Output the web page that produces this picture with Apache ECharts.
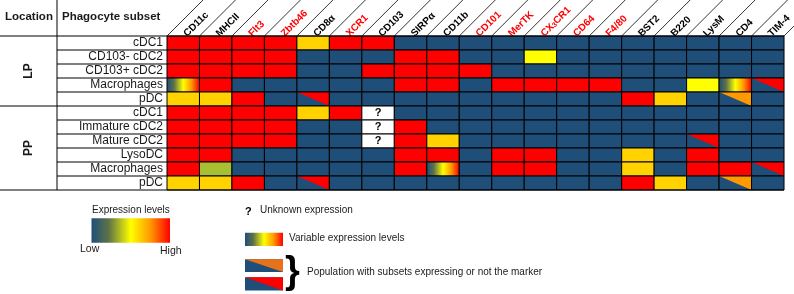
<!DOCTYPE html>
<html><head><meta charset="utf-8">
<script src="https://cdn.jsdelivr.net/npm/echarts@6/dist/echarts.min.js"></script>
<style>html,body{margin:0;padding:0;background:#fff}#c{width:794px;height:294px}</style>
</head><body><div id="c"></div>
<script>
// ---------------- data ----------------
const markers = ['CD11c','MHCII','Flt3','Zbtb46','CD8α','XCR1','CD103','SIRPα','CD11b','CD101','MerTK','CX3CR1','CD64','F4/80','BST2','B220','LysM','CD4','TIM-4'];
const redMarkers = ['Flt3','Zbtb46','XCR1','CD101','MerTK','CX3CR1','CD64','F4/80'];
const subsets = ['cDC1','CD103- cDC2','CD103+ cDC2','Macrophages','pDC','cDC1','Immature cDC2','Mature cDC2','LysoDC','Macrophages','pDC'];
const locations = ['LP','PP'];
const locationRows = [[0,4],[5,10]];
// codes: L low, H high, M medium, Y yellow, O olive, V variable, SR split red, SO split orange, U unknown
const LP_cDC1     = ['H','H','H','H','M','H','H','L','L','L','L','L','L','L','L','L','L','L','L'];
const LP_CD103neg = ['H','H','H','H','L','L','L','H','H','L','L','Y','L','L','L','L','L','L','L'];
const LP_CD103pos = ['H','H','H','H','L','L','H','H','H','H','L','L','L','L','L','L','L','L','L'];
const LP_Mac      = ['V','H','L','L','L','L','L','H','H','L','H','H','H','H','L','L','Y','V','SR'];
const LP_pDC      = ['M','M','H','L','SR','L','L','L','L','L','L','L','L','L','H','M','L','SO','L'];
const PP_cDC1     = ['H','H','H','H','M','H','U','L','L','L','L','L','L','L','L','L','L','L','L'];
const PP_ImmcDC2  = ['H','H','H','H','L','L','U','H','L','L','L','L','L','L','L','L','L','L','L'];
const PP_MatcDC2  = ['H','H','H','H','L','L','U','H','M','L','L','L','L','L','L','L','SR','L','L'];
const PP_LysoDC   = ['H','H','L','L','L','L','L','H','H','L','H','H','L','L','M','L','H','L','L'];
const PP_Mac      = ['H','O','L','L','L','L','L','H','V','L','H','H','L','L','M','L','H','H','SR'];
const PP_pDC      = ['M','M','H','L','SR','L','L','L','L','L','L','L','L','L','H','M','L','SO','L'];
const matrix = [LP_cDC1,LP_CD103neg,LP_CD103pos,LP_Mac,LP_pDC,PP_cDC1,PP_ImmcDC2,PP_MatcDC2,PP_LysoDC,PP_Mac,PP_pDC];

// ---------------- style ----------------
const FONT = 'Liberation Sans, Arial, sans-serif';
const TXT = '#1a1a1a';
const BLUE = '#1f4e79', RED = '#ff0000', GOLD = '#ffd200', YEL = '#ffff00', OLIVE = '#a9bf32', ORANGE = '#ff9900';
const codeKeys = ['L','H','M','Y','O','V','SR','SO','U'];
const flat = {L: BLUE, H: RED, M: GOLD, Y: YEL, O: OLIVE};
const SUBSET_X = 57;
function grad(){
  return new echarts.graphic.LinearGradient(0,0,1,0,[
    {offset:0,color:BLUE},{offset:0.22,color:'#5f7347'},{offset:0.5,color:'#ffff00'},{offset:0.75,color:'#ff9a00'},{offset:1,color:'#ff0000'}]);
}

const cellData = [];
matrix.forEach((row, y) => row.forEach((code, x) => cellData.push([x, y, codeKeys.indexOf(code)])));

function renderCell(params, api){
  const xi = api.value(0), yi = api.value(1), code = codeKeys[api.value(2)];
  const c = api.coord([xi, yi]), s = api.size([1,1]);
  const x0 = c[0]-s[0]/2, y0 = c[1]-s[1]/2, w = s[0], h = s[1];
  const ch = [];
  if (flat[code]) ch.push({type:'rect', shape:{x:x0,y:y0,width:w,height:h}, style:{fill:flat[code]}});
  else if (code === 'V') ch.push({type:'rect', shape:{x:x0,y:y0,width:w,height:h}, style:{fill:grad()}});
  else if (code === 'SR' || code === 'SO') {
    ch.push({type:'rect', shape:{x:x0,y:y0,width:w,height:h}, style:{fill:BLUE}});
    ch.push({type:'polygon', shape:{points:[[x0,y0],[x0+w,y0],[x0+w,y0+h]]}, style:{fill: code==='SR'?RED:ORANGE}});
  } else if (code === 'U') {
    ch.push({type:'rect', shape:{x:x0,y:y0,width:w,height:h}, style:{fill:'#fff'}});
    ch.push({type:'text', x:c[0], y:c[1], style:{text:'?', font:'bold 11px '+FONT, fill:'#000', align:'center', verticalAlign:'middle'}});
  }
  ch.push({type:'rect', shape:{x:x0,y:y0,width:w,height:h}, style:{fill:null, stroke:'#000', lineWidth:1}});
  return {type:'group', children: ch};
}

function renderHeaderLines(params, api){
  const xi = api.value(0);
  const c = api.coord([xi, 0]), s = api.size([1,1]);
  const top = params.coordSys.y;
  const left = c[0]-s[0]/2;
  const ch = [{type:'line', shape:{x1:left,y1:top,x2:left+top,y2:0}, style:{stroke:'#000', lineWidth:0.8}}];
  if (xi === markers.length-1) ch.push({type:'line', shape:{x1:left+s[0],y1:top,x2:left+s[0]+top,y2:0}, style:{stroke:'#000', lineWidth:0.8}});
  return {type:'group', children: ch};
}

function renderFrame(params, api){
  const g = api.value(0), r0 = api.value(1), r1 = api.value(2);
  const cs = params.coordSys;
  const s = api.size([1,1]);
  const yTop = api.coord([0, r0])[1]-s[1]/2, yBot = api.coord([0, r1])[1]+s[1]/2;
  const ch = [];
  const ln = (x1,y1,x2,y2) => ch.push({type:'line', shape:{x1,y1,x2,y2}, style:{stroke:'#000', lineWidth:1}});
  if (g === 0) { ln(0, yTop, cs.x+cs.width, yTop); ln(SUBSET_X, 0, SUBSET_X, cs.y+cs.height); }
  ln(0, yBot, g === locations.length-1 ? cs.x+cs.width : cs.x, yBot);
  for (let r = r0; r < r1; r++) { const yb = api.coord([0, r])[1]+s[1]/2; ln(SUBSET_X, yb, cs.x, yb); }
  ch.push({type:'text', x: SUBSET_X/2, y:(yTop+yBot)/2, rotation: Math.PI/2,
    style:{text: locations[g], font:'bold 12px '+FONT, fill:TXT, align:'center', verticalAlign:'middle'}});
  return {type:'group', children: ch};
}

const chart = echarts.init(document.getElementById('c'), null, {renderer:'canvas'});
chart.setOption({
  animation:false,
  backgroundColor:'#fff',
  grid:{left:167, right:9, top:36, bottom:104, containLabel:false},
  xAxis:{type:'category', position:'top', data:markers, axisLine:{show:false}, axisTick:{show:false}, splitLine:{show:false},
    axisLabel:{interval:0, rotate:-45, margin:3, padding:[6,0,0,0],
      formatter:(v)=> v==='CX3CR1' ? '{r|CX}{rs|3}{r|CR1}' : (redMarkers.indexOf(v)>=0 ? '{r|'+v+'}' : '{k|'+v+'}'),
      rich:{k:{fontFamily:FONT, fontWeight:'bold', fontSize:10, color:'#000'},
            r:{fontFamily:FONT, fontWeight:'bold', fontSize:10, color:RED},
            rs:{fontFamily:FONT, fontWeight:'bold', fontSize:7, color:RED, verticalAlign:'bottom', lineHeight:8}}}},
  yAxis:{type:'category', inverse:true, data:subsets.map((s,i)=>String(i)), axisLine:{show:false}, axisTick:{show:false}, splitLine:{show:false},
    axisLabel:{interval:0, margin:4, fontFamily:FONT, fontSize:12, color:TXT, formatter:(v,i)=>subsets[i]}},
  series:[
    {type:'custom', name:'cells', renderItem:renderCell, data:cellData, clip:false, encode:{x:0,y:1}},
    {type:'custom', name:'headerLines', renderItem:renderHeaderLines, data:markers.map((m,i)=>[i,0]), clip:false, encode:{x:0,y:1}, silent:true},
    {type:'custom', name:'frame', renderItem:renderFrame, data:locationRows.map((r,g)=>[g,r[0],r[1]]), clip:false, encode:{x:[],y:[1,2]}, silent:true}
  ],
  graphic:[
    {type:'text', left:5, top:11, style:{text:'Location', font:'bold 11.5px '+FONT, fill:TXT}},
    {type:'text', left:62, top:11, style:{text:'Phagocyte subset', font:'bold 11.5px '+FONT, fill:TXT}},
    // expression legend
    {type:'text', left:92, top:205, style:{text:'Expression levels', font:'10px '+FONT, fill:TXT}},
    {type:'rect', left:91.5, top:218.3, shape:{width:78.5, height:24.5}, style:{fill:grad()}},
    {type:'text', left:80, top:244, style:{text:'Low', font:'10.5px '+FONT, fill:TXT}},
    {type:'text', left:160, top:245.5, style:{text:'High', font:'10.5px '+FONT, fill:TXT}},
    {type:'text', left:245, top:206, style:{text:'?', font:'bold 11px '+FONT, fill:'#000'}},
    {type:'text', left:260, top:205, style:{text:'Unknown expression', font:'10px '+FONT, fill:TXT}},
    {type:'rect', left:245, top:232.7, shape:{width:38, height:13.3}, style:{fill:grad()}},
    {type:'text', left:289, top:233.5, style:{text:'Variable expression levels', font:'10px '+FONT, fill:TXT}},
    {type:'group', left:245, top:259.3, children:[
      {type:'rect', shape:{x:0,y:0,width:38,height:12.7}, style:{fill:BLUE}},
      {type:'polygon', shape:{points:[[0,0],[38,0],[38,12.7]]}, style:{fill:'#e8711b'}}]},
    {type:'group', left:245, top:277.3, children:[
      {type:'rect', shape:{x:0,y:0,width:38,height:13.3}, style:{fill:BLUE}},
      {type:'polygon', shape:{points:[[0,0],[38,0],[38,13.3]]}, style:{fill:RED}}]},
    {type:'text', left:285, top:254, style:{text:'}', font:'bold 38px '+FONT, fill:'#000'}},
    {type:'text', left:307, top:267, style:{text:'Population with subsets expressing or not the marker', font:'10px '+FONT, fill:TXT}}
  ]
});
</script></body></html>
